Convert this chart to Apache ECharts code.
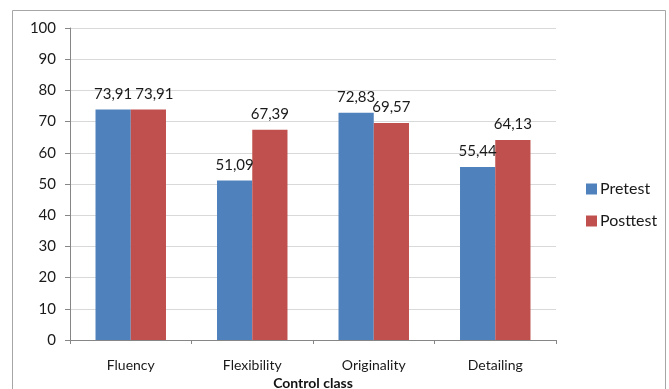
<!DOCTYPE html>
<html>
<head>
<meta charset="utf-8">
<script src="https://cdn.jsdelivr.net/npm/echarts@6/dist/echarts.min.js"></script>
<style>
  html, body { margin: 0; padding: 0; background: #fff; }
  #chart { width: 669px; height: 389px; }
</style>
</head>
<body>
<div id="chart"></div>
<script>
// Creativity scores of the control class, before and after
const categories = ['Fluency', 'Flexibility', 'Originality', 'Detailing'];
const pretest = [73.91, 51.09, 72.83, 55.44];
const posttest = [73.91, 67.39, 69.57, 64.13];
const seriesNames = ['Pretest', 'Posttest'];
const yTicks = { min: 0, max: 100, step: 10 };

const font = 'Lato, "Liberation Sans", sans-serif';
const fmt = p => p.value.toFixed(2).replace('.', ',');
const labelStyle = { fontFamily: font, fontSize: 15, color: '#1a1a1a' };

// Equal neighbouring labels would collide; nudge the second one right.
const postData = posttest.map((v, i) =>
  v === pretest[i] ? { value: v, label: { offset: [6, 0] } } : v);

const chart = echarts.init(document.getElementById('chart'), null, { renderer: 'canvas' });

chart.setOption({
  animation: false,
  backgroundColor: '#fff',
  textStyle: { fontFamily: font },
  graphic: [{
    type: 'rect',
    shape: { x: 12.5, y: 10.5, width: 653, height: 390 },
    style: { fill: 'none', stroke: '#a6a6a6', lineWidth: 1 },
    silent: true
  }],
  grid: { left: 70, right: 113, top: 28, bottom: 49, containLabel: false, outerBoundsMode: 'none' },
  legend: {
    orient: 'vertical',
    left: 581,
    top: 176,
    itemWidth: 11,
    itemHeight: 11,
    itemGap: 16,
    icon: 'rect',
    data: seriesNames,
    textStyle: { fontFamily: font, fontSize: 16, color: '#1a1a1a', padding: [0, 0, 0, -2] }
  },
  xAxis: {
    type: 'category',
    data: categories,
    name: 'Control class',
    nameLocation: 'middle',
    nameGap: 36,
    nameTextStyle: { fontFamily: font, fontSize: 14, fontWeight: 'bold', color: '#111' },
    axisLine: { lineStyle: { color: '#868686' } },
    axisTick: { show: true, length: 4, lineStyle: { color: '#868686' } },
    axisLabel: { fontFamily: font, fontSize: 14, color: '#1a1a1a', margin: 18 },
    splitLine: { show: false }
  },
  yAxis: {
    type: 'value',
    min: yTicks.min,
    max: yTicks.max,
    interval: yTicks.step,
    axisLine: { show: true, lineStyle: { color: '#868686' } },
    axisTick: { show: true, length: 5, lineStyle: { color: '#868686' } },
    axisLabel: { fontFamily: font, fontSize: 15, color: '#1a1a1a', margin: 14 },
    splitLine: { lineStyle: { color: '#d9d9d9' } }
  },
  series: [
    {
      name: seriesNames[0],
      type: 'bar',
      data: pretest,
      barGap: '0%',
      barCategoryGap: '42%',
      itemStyle: { color: '#4f81bd' },
      label: Object.assign({ show: true, position: 'top', distance: 8, formatter: fmt }, labelStyle)
    },
    {
      name: seriesNames[1],
      type: 'bar',
      data: postData,
      itemStyle: { color: '#c0504d' },
      label: Object.assign({ show: true, position: 'top', distance: 8, formatter: fmt }, labelStyle)
    }
  ]
});
</script>
</body>
</html>
